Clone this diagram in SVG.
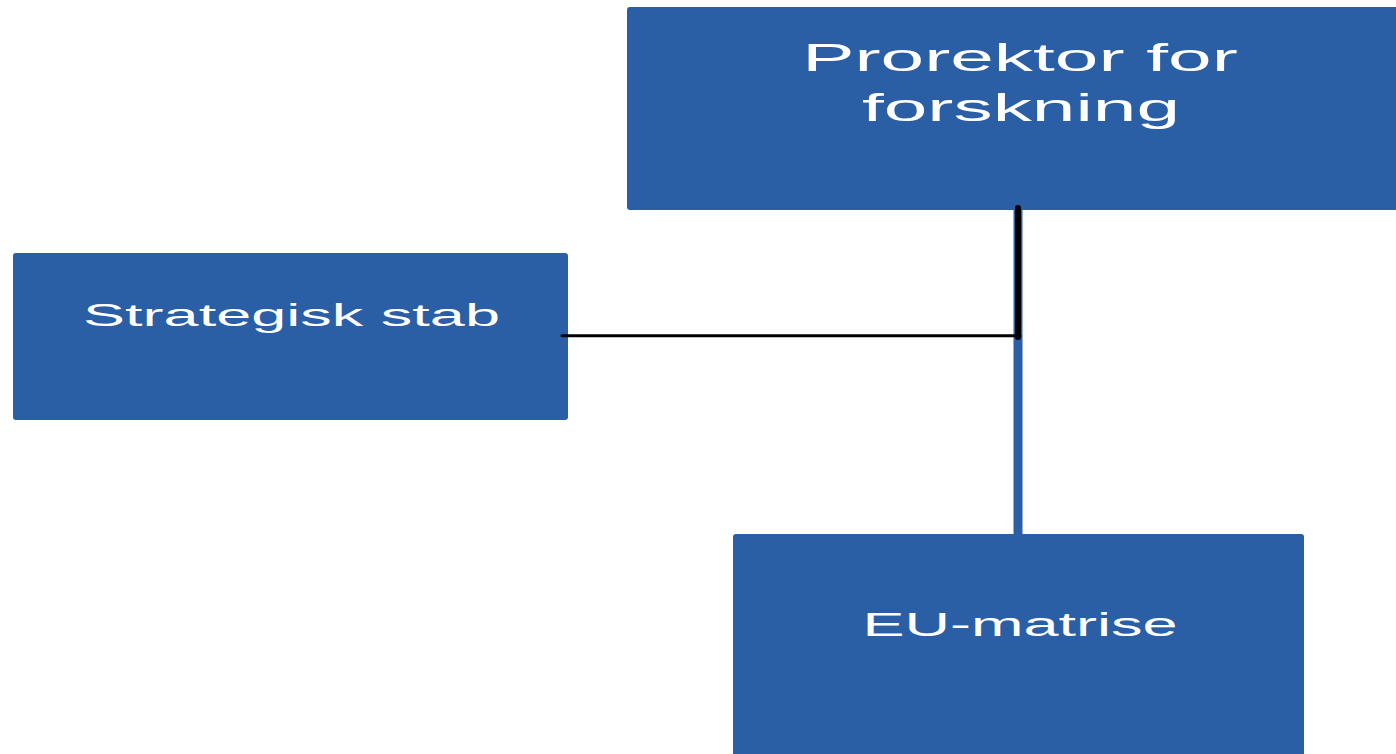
<svg xmlns="http://www.w3.org/2000/svg" width="1396" height="754" viewBox="0 0 1396 754">
  <style>
    .box { fill: #2a5ea5; }
    .lbl { fill: #ffffff; font-family: "Liberation Sans", Arial, sans-serif; text-anchor: middle; }
  </style>
  <rect x="0" y="0" width="1396" height="754" fill="#ffffff"/>
  <g id="node-prorektor">
    <rect class="box" x="627" y="7" width="790" height="203" rx="3"/>
    <text class="lbl" font-size="39" transform="translate(1020,71) scale(2.01,1)">Prorektor for</text>
    <text class="lbl" font-size="39" transform="translate(1021,121) scale(2.01,1)">forskning</text>
  </g>
  <g id="node-strategisk">
    <rect class="box" x="13" y="253" width="555" height="167" rx="3"/>
    <text class="lbl" font-size="32" transform="translate(291.5,326) scale(1.97,1)">Strategisk stab</text>
  </g>
  <g id="node-eu">
    <rect class="box" x="733" y="534" width="571" height="240" rx="3"/>
    <text class="lbl" font-size="33" transform="translate(1020,636) scale(1.91,1)">EU-matrise</text>
  </g>
  <g id="connectors">
    <line x1="1018" y1="210" x2="1018" y2="535" stroke="#2a5ea5" stroke-width="9"/>
    <line x1="1018" y1="208" x2="1018" y2="337" stroke="#000000" stroke-width="6" stroke-linecap="round"/>
    <line x1="562" y1="335.8" x2="1020" y2="335.8" stroke="#000000" stroke-width="3" stroke-linecap="round"/>
  </g>
</svg>
